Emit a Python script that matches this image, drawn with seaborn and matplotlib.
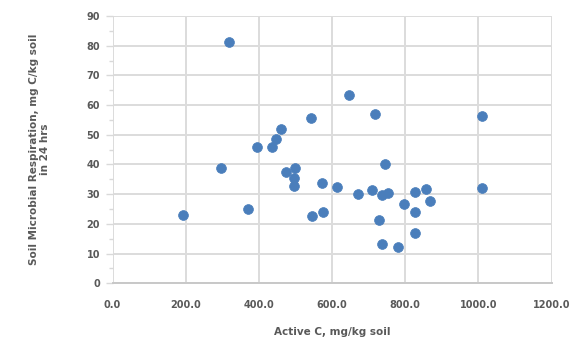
import matplotlib
matplotlib.use("Agg")
import matplotlib.pyplot as plt
import seaborn as sns
import pandas as pd
from matplotlib.ticker import MultipleLocator, FormatStrFormatter

active_c = [193, 318, 297, 370, 394, 436, 448, 461, 475, 500, 497, 497,
            543, 646, 717, 1011, 746, 573, 614, 670, 710, 737, 752, 828,
            858, 867, 796, 826, 828, 728, 737, 781, 546, 574, 1011]
respiration = [23.0, 81.3, 38.7, 24.9, 45.8, 45.8, 48.5, 51.8, 37.6, 38.7, 35.5, 32.7,
               55.6, 63.4, 56.9, 56.4, 40.1, 33.7, 32.3, 30.0, 31.4, 29.7, 30.5, 30.6,
               31.8, 27.6, 26.7, 24.0, 17.0, 21.3, 13.1, 12.2, 22.8, 23.9, 32.2]

df = pd.DataFrame({"Active C": active_c, "Respiration": respiration})

sns.set_theme(style="white")
plt.rcParams['font.family'] = ['DejaVu Sans']

fig = plt.figure(figsize=(5.74, 3.40), dpi=100)
ax = fig.add_axes([0.196, 0.167, 0.765, 0.786])

sns.scatterplot(data=df, x="Active C", y="Respiration", ax=ax,
                color="#4a7ebb", s=50, marker="o", edgecolor="#4a7ebb",
                linewidth=0.5, zorder=3)

ax.set_xlim(0, 1200)
ax.set_ylim(0, 90)
ax.xaxis.set_major_locator(MultipleLocator(200))
ax.yaxis.set_major_locator(MultipleLocator(10))
ax.yaxis.set_minor_locator(MultipleLocator(5))
ax.xaxis.set_major_formatter(FormatStrFormatter("%.1f"))

ax.grid(True, which="major", color="#dcdcdc", linewidth=1.4, zorder=0)
ax.set_axisbelow(True)
for side in ["top", "right", "left"]:
    ax.spines[side].set_visible(False)
ax.spines["bottom"].set_color("#c8c8c8")
ax.spines["bottom"].set_linewidth(1.4)

ax.tick_params(axis="y", which="major", length=5, width=1.0, color="#d9d9d9",
               labelsize=7, labelcolor="#595959", pad=4, left=True)
ax.tick_params(axis="y", which="minor", length=3, width=1.0, color="#d9d9d9", left=True)
ax.tick_params(axis="x", which="major", length=0, labelsize=7,
               labelcolor="#595959", pad=12)
for lbl in ax.get_xticklabels() + ax.get_yticklabels():
    lbl.set_fontweight("bold")

ax.set_xlabel("Active C, mg/kg soil", fontsize=7.5, fontweight="bold",
              color="#595959", labelpad=12)
ax.set_ylabel("Soil Microbial Respiration, mg C/kg soil\nin 24 hrs", fontsize=7.5,
              fontweight="bold", color="#595959", labelpad=26)

fig.savefig("out.png", dpi=100)
